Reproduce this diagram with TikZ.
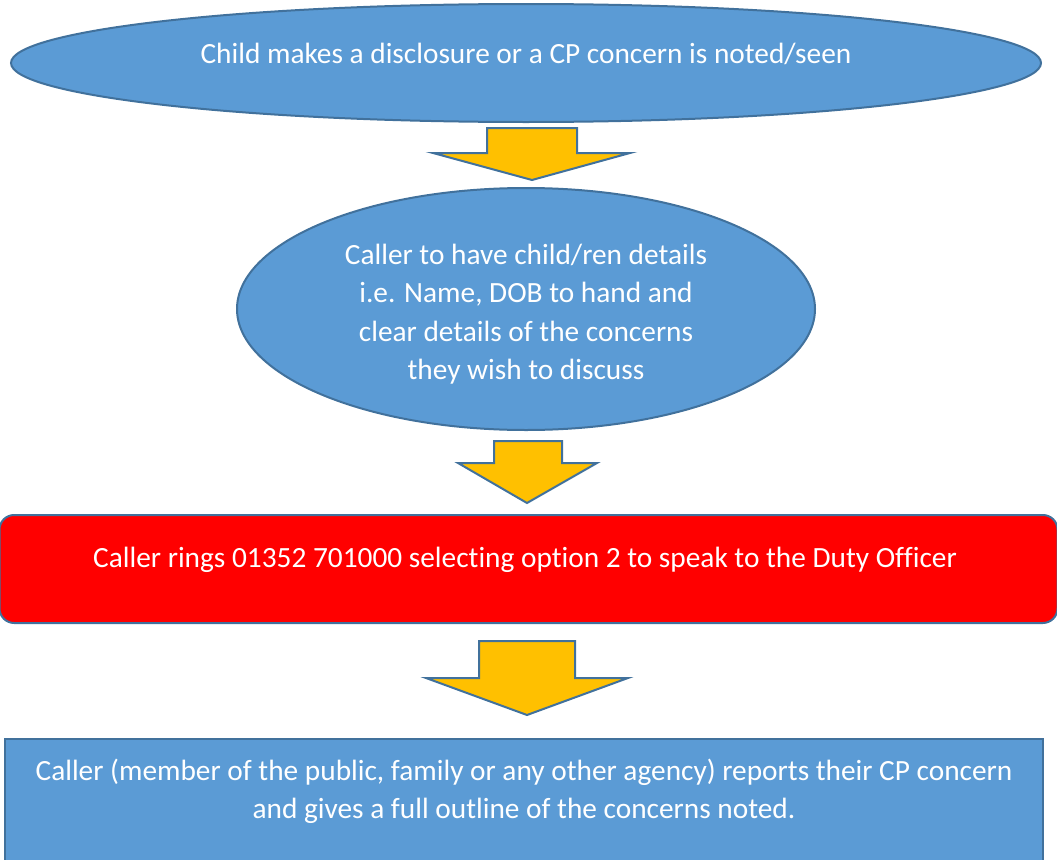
\documentclass[tikz,border=0pt]{standalone}
\usepackage{fontspec}
\setmainfont{Carlito}[Ligatures=NoCommon]
\usepackage{xcolor}
\usetikzlibrary{shapes.geometric,positioning}
\definecolor{bubbleblue}{HTML}{5B9BD5}
\definecolor{edgeblue}{HTML}{41719C}
\definecolor{arrowgold}{HTML}{FFC000}
\definecolor{alarmred}{HTML}{FF0000}

\begin{document}
\begin{tikzpicture}[x=0.75pt,y=-0.75pt,
        bubble/.style={ellipse, draw=edgeblue, fill=bubbleblue, line width=1.5pt, inner sep=0pt},
        panel/.style={rectangle, draw=edgeblue, line width=1.5pt, inner sep=0pt},
        words/.style={text=white, font=\fontsize{22}{28.8}\selectfont, align=center, inner sep=0pt},
        blockarrow/.style={draw=edgeblue, fill=arrowgold, line width=1.5pt, line join=miter}]
        \useasboundingbox (0,0) rectangle (1057,860);
        %%Disclosure
        \node[bubble, minimum width=772.5pt, minimum height=88.5pt] (disclosure) at (526,63) {};
        \node[words, anchor=base] (disclosuretext) at (526,63) {Child makes a disclosure or a CP concern is noted/seen};
        %%Details
        \node[bubble, minimum width=433.5pt, minimum height=181.5pt] (details) at (526,309) {};
        \node[words] (detailstext) at (526,314) {Caller to have child/ren details\\i.e. Name, DOB to hand and\\clear details of the concerns\\they wish to discuss};
        %%Phone call
        \node[panel, fill=alarmred, rounded corners=11pt, minimum width=793.5pt, minimum height=81pt] (ring) at (528.5,569) {};
        \node[words, anchor=base] (ringtext) at (525,567) {Caller rings 01352 701000 selecting option 2 to speak to the Duty Officer};
        %%Report
        \node[panel, fill=bubbleblue, minimum width=778.5pt, minimum height=113.25pt] (report) at (524,814.5) {};
        \node[words] (reporttext) at (524,791.5) {Caller (member of the public, family or any other agency) reports their CP concern\\and gives a full outline of the concerns noted.};
        %%Arrows
        \draw[blockarrow] (487,128) -- (577,128) -- (577,153) -- (630,153) -- (532,180) -- (433,153) -- (487,153) -- cycle;
        \draw[blockarrow] (494,441) -- (562,441) -- (562,463) -- (597,463) -- (527,503) -- (458,463) -- (494,463) -- cycle;
        \draw[blockarrow] (479,641) -- (575,641) -- (575,678) -- (628,678) -- (527,715) -- (426,678) -- (479,678) -- cycle;
\end{tikzpicture}
\end{document}
